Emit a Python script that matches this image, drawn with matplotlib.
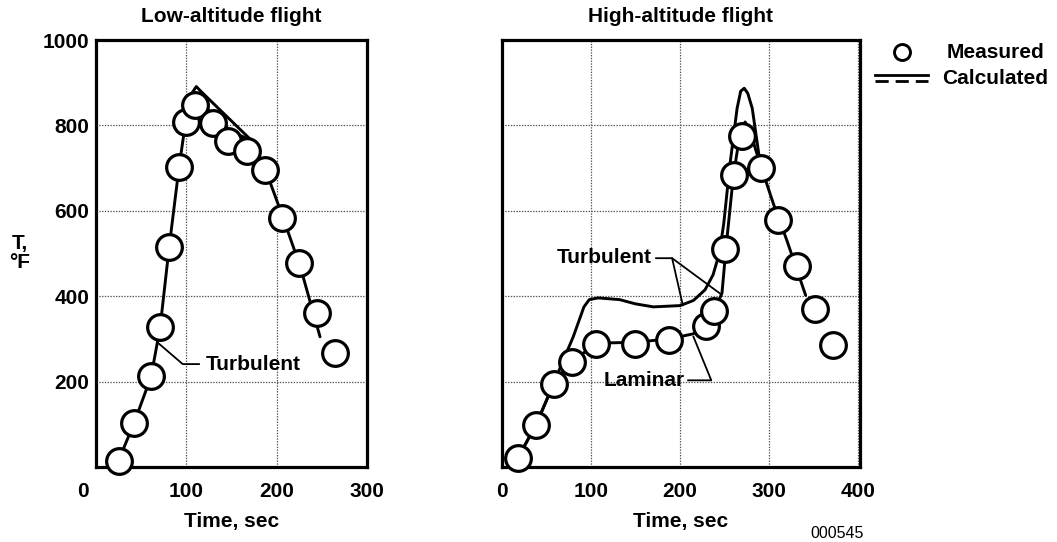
import matplotlib
matplotlib.use("Agg")  # headless
import matplotlib.pyplot as plt
from matplotlib.lines import Line2D

plt.rcParams["font.family"] = ["Liberation Sans", "DejaVu Sans"]
plt.rcParams["font.weight"] = "bold"
plt.rcParams["lines.scale_dashes"] = False

# Low-altitude flight: measured points
low_meas_t = [26, 42, 61, 71, 81, 92, 100, 110, 130, 146, 167, 187, 206, 225, 245, 265]
low_meas_T = [15, 102, 212, 327, 515, 703, 809, 848, 806, 763, 740, 695, 584, 478, 361, 268]
# Low-altitude flight: calculated (turbulent), upper branch
low_calc_t = [22, 42, 61, 71, 81, 92, 100, 106, 111, 116, 172, 187, 206, 226, 248]
low_calc_T = [0, 102, 212, 327, 515, 703, 820, 875, 891, 880, 765, 700, 590, 470, 305]
# lower branch near the peak
low_calc2_t = [100, 106, 112, 125, 150, 172]
low_calc2_T = [820, 866, 872, 835, 785, 765]

# High-altitude flight: measured points
high_meas_t = [18, 38, 58, 79, 106, 149, 188, 229, 238, 250, 260, 269, 291, 310, 331, 352, 372]
high_meas_T = [22, 98, 195, 247, 288, 288, 298, 330, 365, 511, 685, 776, 701, 579, 471, 371, 286]
# calculated, turbulent
high_turb_t = [11, 18, 38, 58, 66, 80, 92, 98, 108, 132, 150, 170, 200, 215, 228, 237, 244, 249,
               256, 264, 268, 272, 276, 281, 290, 305, 320, 341]
high_turb_T = [0, 22, 98, 195, 236, 305, 375, 392, 396, 392, 382, 375, 378, 390, 415, 450, 500, 570,
               709, 840, 880, 887, 875, 840, 709, 615, 530, 402]
# calculated, laminar
high_lam_t = [11, 18, 38, 58, 79, 106, 149, 188, 215, 229, 238, 247, 252, 260, 268, 273, 278, 291]
high_lam_T = [0, 22, 98, 195, 247, 290, 292, 300, 312, 330, 365, 407, 523, 685, 790, 808, 790, 701]

FS = 15
grid_kw = dict(color="#555555", linestyle=(0, (1, 1)), linewidth=0.9)
line_kw = dict(color="black", linewidth=2.1, solid_capstyle="round", zorder=2)
lead_kw = dict(color="black", linewidth=1.3, zorder=2, clip_on=False)
mark_kw = dict(linestyle="none", marker="o", markersize=18.5, markerfacecolor="white",
               markeredgecolor="black", markeredgewidth=2.3, zorder=3, clip_on=False)


def style_axes(ax, xmax, xticks, title):
    ax.set_xlim(0, xmax)
    ax.set_ylim(0, 1000)
    ax.set_xticks(xticks)
    ax.set_yticks([200, 400, 600, 800, 1000])
    ax.tick_params(length=0, labelsize=FS, pad=11)
    ax.tick_params(axis="y", pad=5)
    for s in ax.spines.values():
        s.set_linewidth(2.3)
    for x in xticks:
        if 0 < x < xmax:
            ax.axvline(x, **grid_kw, zorder=0)
    for y in [200, 400, 600, 800]:
        ax.axhline(y, **grid_kw, zorder=0)
    ax.set_xlabel("Time, sec", fontsize=FS, fontweight="bold", labelpad=8)
    ax.set_title(title, fontsize=FS, fontweight="bold", pad=13)


fig = plt.figure(figsize=(10.57, 5.42), dpi=100)
ax1 = fig.add_axes([96 / 1057, 75 / 542, 271 / 1057, 427 / 542])
ax2 = fig.add_axes([502 / 1057, 75 / 542, 358 / 1057, 427 / 542])

# left panel
style_axes(ax1, 300, [100, 200, 300], "Low-altitude flight")
ax1.text(-15, -58, "0", ha="center", va="center", fontsize=FS, fontweight="bold", clip_on=False)
ax1.plot(low_calc_t, low_calc_T, **line_kw)
ax1.plot(low_calc2_t, low_calc2_T, **line_kw)
ax1.plot(low_meas_t, low_meas_T, **mark_kw)
ax1.plot([69, 96, 114], [290, 241, 241], **lead_kw)
ax1.text(122, 241, "Turbulent", ha="left", va="center", fontsize=FS, fontweight="bold")
ax1.set_ylabel("T,\n°F", fontsize=FS, fontweight="bold", rotation=0, labelpad=0,
               linespacing=1.0, ha="center", va="center")
ax1.yaxis.set_label_coords(-0.28, 0.50)

# right panel
style_axes(ax2, 402, [0, 100, 200, 300, 400], "High-altitude flight")
ax2.set_yticklabels([])
ax2.plot(high_turb_t, high_turb_T, **line_kw)
ax2.plot(high_lam_t, high_lam_T, **line_kw)
ax2.plot(high_meas_t, high_meas_T, **mark_kw)
ax2.plot([173, 191, 203], [489, 489, 379], **lead_kw)
ax2.plot([191, 245], [489, 406], **lead_kw)
ax2.text(168, 491, "Turbulent", ha="right", va="center", fontsize=FS, fontweight="bold")
ax2.plot([209, 235, 215], [203, 203, 305], **lead_kw)
ax2.text(205, 203, "Laminar", ha="right", va="center", fontsize=FS, fontweight="bold")

# legend drawn by hand
fw, fh = 1057, 542
fig.add_artist(Line2D([902 / fw], [1 - 52 / fh], marker="o", markersize=11.5, markerfacecolor="white",
                      markeredgecolor="black", markeredgewidth=2.1, transform=fig.transFigure))
fig.text(947 / fw, 1 - 52 / fh, "Measured", ha="left", va="center", fontsize=FS, fontweight="bold")
fig.add_artist(Line2D([875 / fw, 928 / fw], [1 - 75 / fh] * 2, color="black", linewidth=2.0,
                      transform=fig.transFigure))
fig.add_artist(Line2D([875 / fw, 928 / fw], [1 - 81 / fh] * 2, color="black", linewidth=2.0,
                      linestyle=(0, (9.5, 5)), transform=fig.transFigure))
fig.text(942 / fw, 1 - 79 / fh, "Calculated", ha="left", va="center", fontsize=FS, fontweight="bold")

fig.text(837 / fw, 1 - 534 / fh, "000545", ha="center", va="center", fontsize=11.5, fontweight="normal")

fig.savefig("out.png", dpi=100, facecolor="white")
